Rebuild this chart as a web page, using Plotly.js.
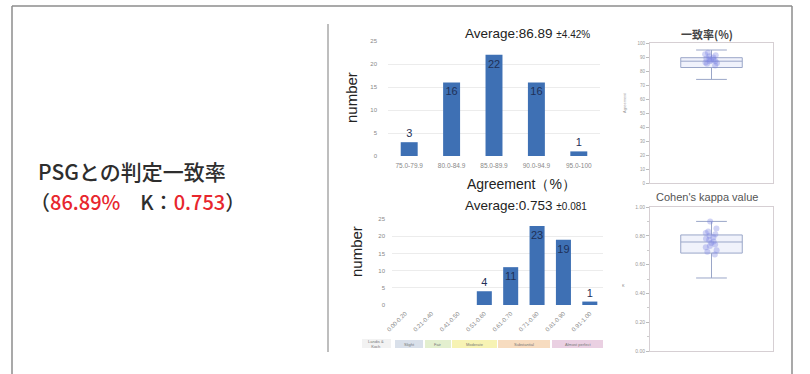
<!DOCTYPE html>
<html><head><meta charset="utf-8">
<script src="https://cdn.plot.ly/plotly-3.0.1.min.js"></script>
<style>html,body{margin:0;padding:0;background:#fff}#c{width:810px;height:374px}</style>
</head><body><div id="c"></div>
<script>
// ---- data ----
const agreeBins = ["75.0-79.9","80.0-84.9","85.0-89.9","90.0-94.9","95.0-100"];
const agreeCounts = [3,16,22,16,1];
const kappaBins = ["0.00-0.20","0.21-0.40","0.41-0.50","0.51-0.60","0.61-0.70","0.71-0.80","0.81-0.90","0.91-1.00"];
const kappaCounts = [0,0,0,4,11,23,19,1];
const kappaLabels = ["","","","4","11","23","19","1"];
const agreeTicks = [0,5,10,15,20,25];
const kappaTicks = [0,5,10,15,20,25];
// box stats
const agreeBoxStats = {q1:[82.5], median:[87], q3:[89.5], lowerfence:[74], upperfence:[95]};
const kappaBoxStats = {q1:[0.68], median:[0.757], q3:[0.806], lowerfence:[0.507], upperfence:[0.90]};
const agreePoints = [93,92,91.3,90.5,89.6,89,88.8,88.2,87.5,87.1,86.9,86,85.8,85.2,84];
const kappaPoints = [0.9,0.85,0.83,0.82,0.81,0.8,0.79,0.78,0.77,0.76,0.75,0.74,0.73,0.72,0.7,0.69,0.67];
const bands = [
  {name:"Slight", color:"#d9e0ea"},
  {name:"Fair", color:"#e3efcf"},
  {name:"Moderate", color:"#f7f3b4"},
  {name:"Substantial", color:"#f7dcc0"},
  {name:"Almost perfect", color:"#ead0e2"}
];

const W=810,H=374;
const px=x=>x/W, py=y=>1-y/H;
const barColor="#3e70b4";
const tickFont={size:6,color:"#888",family:"Arial"};
const labelPos=v=>v>=10?"inside":"outside";

const traces=[
 {type:"bar",x:agreeBins,y:agreeCounts,xaxis:"x",yaxis:"y",marker:{color:barColor},width:0.4,
  text:agreeCounts.map(String),textposition:agreeCounts.map(labelPos),insidetextanchor:"end",
  textangle:0,constraintext:"none",cliponaxis:false,
  textfont:{size:11,color:"#1f3158",family:"Arial"},hoverinfo:"none"},
 {type:"bar",x:kappaBins,y:kappaCounts,xaxis:"x2",yaxis:"y2",marker:{color:barColor},width:0.57,
  text:kappaLabels,textposition:kappaCounts.map(labelPos),insidetextanchor:"end",
  textangle:0,constraintext:"none",cliponaxis:false,
  textfont:{size:11,color:"#1f3158",family:"Arial"},hoverinfo:"none"},
 Object.assign({type:"box",x:["a"],xaxis:"x3",yaxis:"y3",boxpoints:false,
  line:{color:"#9aa6c8",width:1},fillcolor:"rgba(225,230,248,0.5)",width:0.5,hoverinfo:"none"},agreeBoxStats),
 {type:"box",x:agreePoints.map(()=> "a"),y:agreePoints,xaxis:"x3",yaxis:"y3",boxpoints:"all",jitter:0.25,pointpos:0,
  line:{width:0,color:"rgba(0,0,0,0)"},fillcolor:"rgba(0,0,0,0)",
  marker:{color:"rgba(120,130,225,0.35)",size:6},hoverinfo:"none"},
 Object.assign({type:"box",x:["a"],xaxis:"x4",yaxis:"y4",boxpoints:false,
  line:{color:"#9aa6c8",width:1},fillcolor:"rgba(225,230,248,0.5)",width:0.5,hoverinfo:"none"},kappaBoxStats),
 {type:"box",x:kappaPoints.map(()=> "a"),y:kappaPoints,xaxis:"x4",yaxis:"y4",boxpoints:"all",jitter:0.25,pointpos:0,
  line:{width:0,color:"rgba(0,0,0,0)"},fillcolor:"rgba(0,0,0,0)",
  marker:{color:"rgba(120,130,225,0.35)",size:6},hoverinfo:"none"}
];

const shapes=[
 {type:"line",xref:"paper",yref:"paper",x0:px(12),x1:px(12),y0:py(6),y1:py(374),line:{color:"#8c8c8c",width:1.5}},
 {type:"line",xref:"paper",yref:"paper",x0:px(12),x1:px(792),y0:py(6),y1:py(6),line:{color:"#8c8c8c",width:1.5}},
 {type:"line",xref:"paper",yref:"paper",x0:px(792),x1:px(792),y0:py(6),y1:py(374),line:{color:"#8c8c8c",width:1.5}},
 {type:"line",xref:"paper",yref:"paper",x0:px(328),x1:px(328),y0:py(24),y1:py(352),line:{color:"#a8a8a8",width:1.5}},
 {type:"rect",xref:"paper",yref:"paper",x0:px(362),x1:px(391),y0:py(348),y1:py(339),line:{width:0},fillcolor:"#f2f2f2",layer:"below"}
];
const bandX=[[395,423],[425,451],[452,497],[498,550],[552,603]];
bands.forEach((b,i)=>{
  shapes.push({type:"rect",xref:"paper",yref:"paper",x0:px(bandX[i][0]),x1:px(bandX[i][1]),y0:py(348),y1:py(340),line:{width:0},fillcolor:b.color,layer:"below"});
});

const A=(text,x,y,font,extra)=>Object.assign({text,x:px(x),y:py(y),xref:"paper",yref:"paper",showarrow:false,
  xanchor:"center",yanchor:"middle",font},extra||{});
const jp="'Noto Sans CJK JP Medium','Noto Sans CJK JP'";
const ann=[
 A("PSGとの判定一致率",36,171,{size:21,color:"#2e2e2e",family:jp},{xanchor:"left"}),
 A("（<span style='color:#e8262d'>86.89%</span>　K：<span style='color:#e8262d'>0.753</span>）",28,201,{size:20,color:"#2e2e2e",family:jp},{xanchor:"left"}),
 A("Average:86.89 <span style='font-size:10px'>±4.42%</span>",463,33,{size:13.5,color:"#222",family:"Arial"},{xanchor:"left"}),
 A("Average:0.753 <span style='font-size:10px'>±0.081</span>",463,205,{size:13.5,color:"#222",family:"Arial"},{xanchor:"left"}),
 A("Agreement（%）",521,184,{size:14,color:"#222",family:"Arial"}),
 A("number",352,98,{size:15,color:"#222",family:"Arial"},{textangle:-90}),
 A("number",356,252,{size:15,color:"#222",family:"Arial"},{textangle:-90}),
 A("一致率(%)",707,34,{size:11,color:"#444",family:"Noto Sans CJK JP",weight:700}),
 A("Cohen's kappa value",707,197,{size:11,color:"#555",family:"Arial"}),
 A("Agreement",624,103,{size:4,color:"#999",family:"Arial"},{textangle:-90}),
 A("κ",623,285,{size:5,color:"#999",family:"Arial"}),
 A("Landis &amp;<br>Koch",376,344,{size:4,color:"#777",family:"Arial"})
];
bands.forEach((b,i)=>{
  ann.push(A(b.name,(bandX[i][0]+bandX[i][1])/2,344,{size:4,color:"#777",family:"Arial"}));
});

const layout={
 width:W,height:H,margin:{l:0,r:0,t:0,b:0},paper_bgcolor:"#fff",plot_bgcolor:"#fff",
 showlegend:false,bargap:0.5,boxmode:"overlay",
 xaxis:{domain:[px(388),px(600)],anchor:"y",tickfont:{size:6.5,color:"#888",family:"Arial"},ticks:"",showline:false,ticklabelstandoff:4},
 yaxis:{domain:[py(156),py(41)],anchor:"x",range:[0,25],tickvals:agreeTicks,tickfont:tickFont,
   gridcolor:"#ececec",zeroline:false,showline:false,ticks:"",ticklabelstandoff:10},
 xaxis2:{domain:[px(392),px(603)],anchor:"y2",tickangle:-45,tickfont:{size:6,color:"#888",family:"Arial"},ticks:"",showline:false,ticklabelstandoff:3},
 yaxis2:{domain:[py(305),py(219)],anchor:"x2",range:[0,25],tickvals:kappaTicks,tickfont:tickFont,
   gridcolor:"#ececec",zeroline:false,showline:false,ticks:"",ticklabelstandoff:6},
 xaxis3:{domain:[px(650),px(773)],anchor:"y3",showticklabels:false,ticks:"",showline:true,mirror:true,linecolor:"#d6cfd3",showgrid:false},
 yaxis3:{domain:[py(183),py(43)],anchor:"x3",range:[0,100],dtick:10,tickfont:{size:4.5,color:"#999",family:"Arial"},
   ticks:"outside",ticklen:3,tickcolor:"#bbb",showline:true,mirror:true,linecolor:"#d6cfd3",showgrid:false,zeroline:false},
 xaxis4:{domain:[px(650),px(773)],anchor:"y4",showticklabels:false,ticks:"",showline:true,mirror:true,linecolor:"#d6cfd3",showgrid:false},
 yaxis4:{domain:[py(351),py(207)],anchor:"x4",range:[0,1],dtick:0.2,tickformat:".2f",tickfont:{size:5,color:"#999",family:"Arial"},
   ticks:"outside",ticklen:3,tickcolor:"#bbb",minor:{dtick:0.1,ticks:"outside",ticklen:2,tickcolor:"#ccc"},
   showline:true,mirror:true,linecolor:"#d6cfd3",showgrid:false,zeroline:false},
 shapes:shapes,annotations:ann
};
Plotly.newPlot("c",traces,layout,{staticPlot:true,displayModeBar:false});
</script></body></html>
